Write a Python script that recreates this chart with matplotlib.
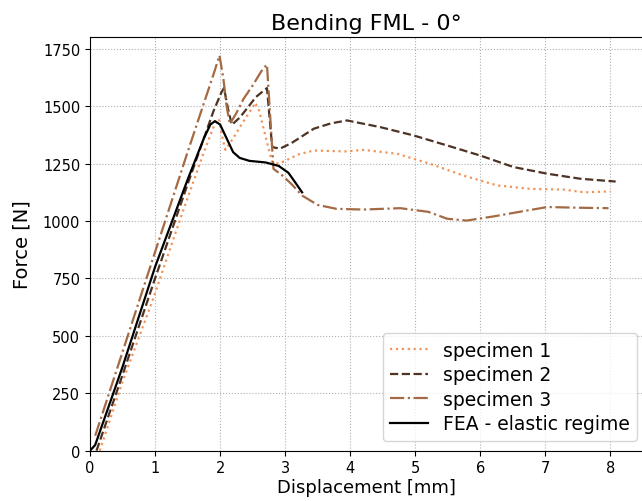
import matplotlib
matplotlib.use("Agg")
import matplotlib.pyplot as plt

# specimen 1 (dotted)
s1_x = [0.15, 0.5, 0.97, 1.4, 1.75, 1.9, 1.98, 2.03, 2.08, 2.2, 2.35, 2.5, 2.54, 2.6, 2.67, 2.75, 2.8, 2.9, 3.0, 3.2, 3.44, 3.7, 3.95, 4.2, 4.72, 5.23, 5.74, 6.26, 6.77, 7.28, 7.6, 8.0]
s1_y = [0, 300, 661, 1020, 1300, 1410, 1445, 1370, 1310, 1360, 1430, 1495, 1515, 1480, 1400, 1310, 1257, 1250, 1262, 1290, 1307, 1305, 1303, 1310, 1293, 1249, 1198, 1155, 1140, 1137, 1125, 1129]

# specimen 2 (dashed)
s2_x = [0.1, 0.5, 1.0, 1.5, 1.9, 2.02, 2.06, 2.12, 2.18, 2.3, 2.41, 2.55, 2.72, 2.76, 2.8, 2.92, 3.1, 3.44, 3.7, 3.95, 4.46, 4.97, 5.49, 6.0, 6.51, 7.03, 7.54, 8.08]
s2_y = [0, 330, 750, 1160, 1480, 1560, 1579, 1490, 1419, 1450, 1489, 1540, 1579, 1450, 1322, 1315, 1340, 1402, 1425, 1438, 1409, 1373, 1329, 1285, 1235, 1206, 1184, 1172]

# specimen 3 (dash-dot)
s3_x = [0.08, 0.5, 1.0, 1.5, 1.9, 1.99, 2.05, 2.1, 2.15, 2.25, 2.36, 2.5, 2.65, 2.72, 2.76, 2.82, 2.95, 3.1, 3.26, 3.5, 3.79, 4.2, 4.77, 5.2, 5.49, 5.79, 6.2, 6.6, 7.03, 7.5, 7.97]
s3_y = [65, 430, 865, 1300, 1640, 1721, 1620, 1500, 1423, 1470, 1532, 1590, 1660, 1681, 1500, 1227, 1200, 1160, 1111, 1070, 1053, 1050, 1056, 1040, 1010, 1002, 1020, 1040, 1061, 1058, 1056]

# FEA elastic regime
fea_x = [0, 0.08, 0.5, 1.0, 1.5, 1.75, 1.85, 1.92, 2.0, 2.1, 2.2, 2.3, 2.45, 2.7, 2.9, 3.05, 3.15, 3.26]
fea_y = [0, 25, 365, 800, 1180, 1360, 1420, 1435, 1420, 1360, 1300, 1275, 1262, 1255, 1240, 1210, 1170, 1125]

labels = ["specimen 1", "specimen 2", "specimen 3", "FEA - elastic regime"]
colors = ["#f0955a", "#4e3324", "#a46a44", "black"]

fig = plt.figure(figsize=(6.42, 5.02), dpi=100)
ax = fig.add_axes([90 / 642, 1 - 451.7 / 502, 553 / 642, (451.7 - 38.3) / 502])

ax.plot(s1_x, s1_y, linestyle=":", color=colors[0], lw=1.6, label=labels[0])
ax.plot(s2_x, s2_y, linestyle="--", color=colors[1], lw=1.6, label=labels[1])
ax.plot(s3_x, s3_y, linestyle="-.", color=colors[2], lw=1.6, label=labels[2])
ax.plot(fea_x, fea_y, linestyle="-", color=colors[3], lw=1.6, label=labels[3])

ax.set_xlim(0, 8.5)
ax.set_ylim(0, 1800)
ax.set_xticks(range(0, 9))
ax.set_yticks([0, 250, 500, 750, 1000, 1250, 1500, 1750])
ax.tick_params(labelsize=10.5)
ax.grid(True, linestyle=":", color="#b0b0b0")
ax.set_title("Bending FML - 0°", fontsize=16)
ax.set_xlabel("Displacement [mm]", fontsize=13, labelpad=2)
ax.set_ylabel("Force [N]", fontsize=14, labelpad=8)
ax.legend(fontsize=13.5, loc="lower right", bbox_to_anchor=(0.989, 0.0235),
          borderaxespad=0, labelspacing=0.3)

fig.savefig("out.png", dpi=100)
